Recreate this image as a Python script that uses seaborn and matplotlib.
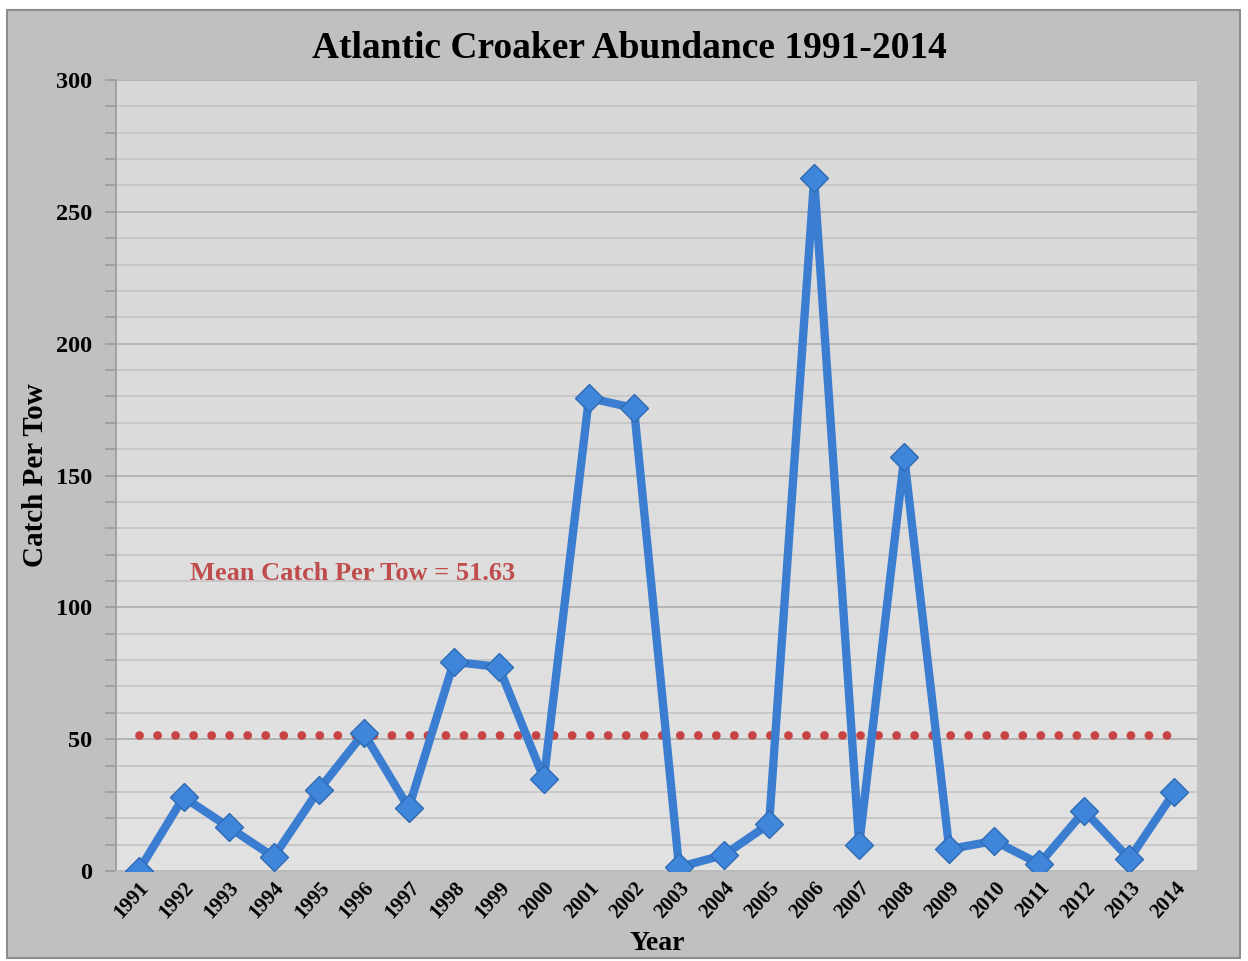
import matplotlib
matplotlib.use("Agg")
import matplotlib.pyplot as plt
import seaborn as sns
import numpy as np
import pandas as pd
from matplotlib.patches import Rectangle
from matplotlib.ticker import MultipleLocator

years = list(range(1991, 2015))
catch_per_tow = [0.0, 28.0, 16.7, 5.3, 30.7, 52.3, 23.9, 79.3, 77.4, 34.9,
                 179.4, 175.6, 1.5, 6.1, 17.8, 262.8, 9.9, 157.0, 8.3, 11.4,
                 2.7, 22.8, 4.6, 30.0]
mean_cpt = 51.63
title = "Atlantic Croaker Abundance 1991-2014"
xlabel = "Year"
ylabel = "Catch Per Tow"
mean_label = "Mean Catch Per Tow = 51.63"

df = pd.DataFrame({"Year": years, "CPT": catch_per_tow})

sns.set_theme(style="white")
plt.rcParams['font.family'] = ['Liberation Serif', 'DejaVu Serif']
plt.rcParams['text.color'] = 'black'
plt.rcParams['xtick.color'] = 'black'
plt.rcParams['ytick.color'] = 'black'
plt.rcParams['axes.labelcolor'] = 'black'

fig = plt.figure(figsize=(12.48, 9.61), dpi=100)
fig.patch.set_facecolor("white")
bg = Rectangle((7/1248, 1-958/961), (1240-7)/1248, (958-10)/961,
               transform=fig.transFigure, facecolor="#c0c0c0",
               edgecolor="#8c8c8c", linewidth=1.5, zorder=-10)
fig.add_artist(bg)

ax = fig.add_axes([116/1248, 1-871/961, (1197-116)/1248, (871-80)/961])
ax.set_zorder(1)
ax.set_facecolor("#dcdcdc")
grad = np.linspace(0, 1, 256).reshape(-1, 1)
ax.imshow(grad, extent=[1990.5, 2014.5, 0, 300], aspect="auto",
          cmap=matplotlib.colors.LinearSegmentedColormap.from_list("g", ["#e2e2e2", "#d8d8d8"]),
          origin="lower", zorder=0)

ax.yaxis.set_major_locator(MultipleLocator(50))
ax.yaxis.set_minor_locator(MultipleLocator(10))
ax.grid(which="minor", axis="y", color="#c4c4c4", linewidth=1.2, zorder=1)
ax.grid(which="major", axis="y", color="#b4b4b4", linewidth=1.4, zorder=1)
ax.set_axisbelow(True)

ax.hlines(mean_cpt, 1991, 2014, colors="#c84444", linewidth=6.3,
          linestyles=(0, (0.01, 2.05)), zorder=2)
for coll in ax.collections:
    coll.set_capstyle("round")

sns.lineplot(data=df, x="Year", y="CPT", ax=ax, color="#3b7dd0", linewidth=6,
             marker="D", markersize=14, markerfacecolor="#3f85da",
             markeredgecolor="#2f6bb5", markeredgewidth=1, zorder=3)

ax.set_xlim(1990.5, 2014.5)
ax.set_ylim(0, 300)
ax.set_xticks(years)
ax.set_xticklabels([str(y) for y in years], rotation=48, ha="right",
                   rotation_mode="anchor", fontsize=15, fontweight="bold")
ax.tick_params(axis="x", which="both", length=0, pad=5)
ax.tick_params(axis="y", which="major", length=8, color="#9a9a9a", width=1.2,
               left=True, labelsize=17.5, pad=9)
ax.tick_params(axis="y", which="minor", length=8, color="#9a9a9a", width=1.2, left=True)
for lab in ax.get_yticklabels():
    lab.set_fontweight("bold")

for s in ["top", "right"]:
    ax.spines[s].set_visible(False)
ax.spines["left"].set_color("#9a9a9a")
ax.spines["left"].set_linewidth(1.2)
ax.spines["bottom"].set_color("#bcbcbc")
ax.spines["bottom"].set_linewidth(1.2)

ax.set_xlabel(xlabel, fontsize=20, fontweight="bold", va="center")
ax.xaxis.set_label_coords((657 - 116) / 1081, (871 - 944) / 791)
ax.set_ylabel(ylabel, fontsize=21, fontweight="bold", va="center")
ax.yaxis.set_label_coords((36 - 116) / 1081, (871 - 475) / 791)

ax.text(1995.75, 113, mean_label, color="#c04d4d", fontsize=19, fontweight="bold",
        ha="center", va="center", zorder=4)

fig.text(629 / 1248, 1 - 49 / 961, title, ha="center", va="center", fontsize=27,
         fontweight="bold", color="black")

fig.savefig("out.png", dpi=100, facecolor=fig.get_facecolor())
